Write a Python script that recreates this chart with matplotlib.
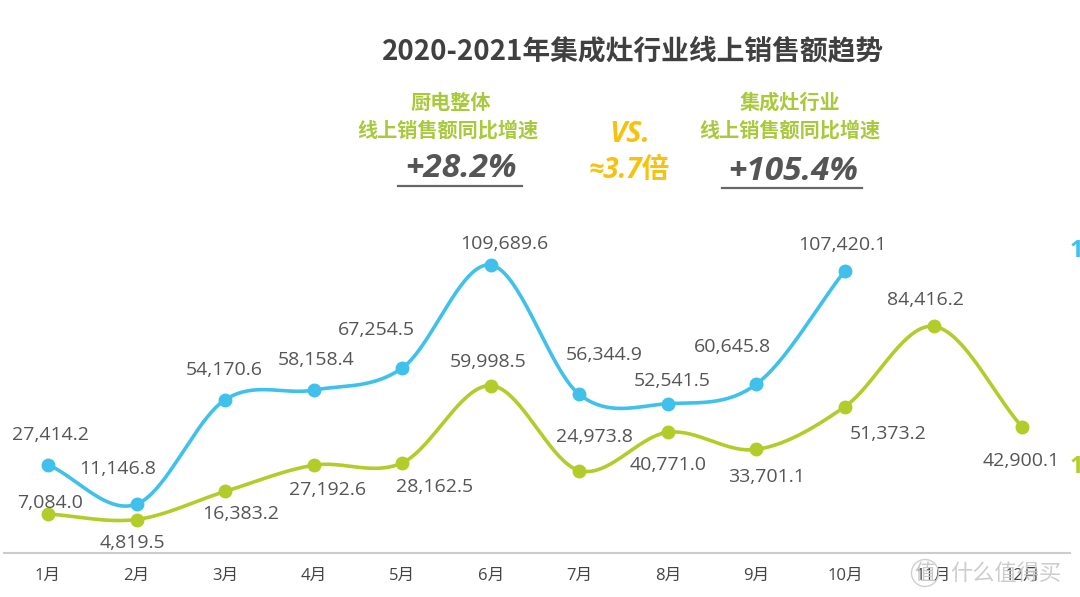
import numpy as np
import matplotlib
matplotlib.use('Agg')
import matplotlib.pyplot as plt
from matplotlib.lines import Line2D

# ---------------- data ----------------
months = ['1月', '2月', '3月', '4月', '5月', '6月', '7月', '8月', '9月', '10月', '11月', '12月']
sales_2021 = [27414.2, 11146.8, 54170.6, 58158.4, 67254.5, 109689.6, 56344.9, 52541.5, 60645.8, 107420.1]
sales_2020 = [7084.0, 4819.5, 16383.2, 27192.6, 28162.5, 59998.5, 24973.8, 40771.0, 33701.1, 51373.2, 84416.2, 42900.1]
title = '2020-2021年集成灶行业线上销售额趋势'
left_head = ['厨电整体', '线上销售额同比增速']
right_head = ['集成灶行业', '线上销售额同比增速']
kitchen_growth = '+28.2%'
stove_growth = '+105.4%'
vs_text = 'VS.'
ratio_text = '≈3.7倍'

# label offsets in pixels (dx, dy downwards) - layout only
off_2021 = [(2, -30), (-19, -35), (-1, -30), (2, -30), (-26, -38), (13, -21), (25, -39), (4, -23), (-24, -37), (-3, -26)]
off_2020 = [(2, -11), (-4, 23), (16, 23), (14, 25), (32, 24), (-3, -24), (15, -34), (0, 33), (10, 28), (43, 27), (-8, -26), (-1, 34)]

BLUE = '#3fc1eb'
GREEN = '#b2cc2a'
HEAD_GREEN = '#a9c93c'
YELLOW = '#f5c30f'
DARK = '#404040'
LABEL = '#555555'
NUMFONT = ['Open Sans', 'Noto Sans CJK SC', 'DejaVu Sans']
CJK = ['Noto Sans CJK SC', 'DejaVu Sans']

W, H = 1080, 597
fig = plt.figure(figsize=(W / 100, H / 100), dpi=100)
fig.patch.set_facecolor('white')

def fx(x):
    return x / W

def fy(y):
    return 1 - y / H

ax = fig.add_axes([fx(4), fy(553), 1066 / W, 353 / H])
ax.set_xlim(-0.497, 11.54)
ax.set_ylim(-8983, 136476)
for s in ['left', 'right', 'top']:
    ax.spines[s].set_visible(False)
ax.spines['bottom'].set_color('#cccccc')
ax.spines['bottom'].set_linewidth(1.5)
ax.set_yticks([])
ax.set_xticks(range(len(months)))
ax.set_xticklabels(months, fontfamily=NUMFONT, fontsize=12, color='#444444')
ax.tick_params(axis='x', length=0, pad=11)


def smooth(y, n=40):
    y = np.asarray(y, float)
    m = len(y)
    t = np.empty(m)
    t[1:-1] = (y[2:] - y[:-2]) / 2
    t[0] = y[1] - y[0]
    t[-1] = y[-1] - y[-2]
    xs, ys = [], []
    for i in range(m - 1):
        s = np.linspace(0, 1, n, endpoint=(i == m - 2))
        h00 = 2 * s**3 - 3 * s**2 + 1
        h10 = s**3 - 2 * s**2 + s
        h01 = -2 * s**3 + 3 * s**2
        h11 = s**3 - s**2
        xs.append(i + s)
        ys.append(h00 * y[i] + h10 * t[i] + h01 * y[i + 1] + h11 * t[i + 1])
    return np.concatenate(xs), np.concatenate(ys)


for vals, col, offs in [(sales_2020, GREEN, off_2020), (sales_2021, BLUE, off_2021)]:
    x = np.arange(len(vals))
    sx, sy = smooth(vals)
    ax.plot(sx, sy, color=col, lw=2.6, solid_capstyle='round', zorder=3)
    ax.plot(x, vals, 'o', color=col, ms=9, zorder=4)
    for xi, v, (dx, dy) in zip(x, vals, offs):
        ax.annotate(f'{v:,.1f}', (xi, v), xytext=(dx * 0.72, -dy * 0.72),
                    textcoords='offset points', ha='center', va='center',
                    fontsize=14, color=LABEL, fontfamily=NUMFONT, zorder=5)

# ---------------- headers ----------------
fig.text(fx(633), fy(52), title, ha='center', va='center', fontsize=20,
         fontweight='bold', color=DARK, fontfamily=CJK)

fig.text(fx(451), fy(102), left_head[0], ha='center', va='center', fontsize=14.5,
         fontweight='bold', color=HEAD_GREEN, fontfamily=CJK)
fig.text(fx(448), fy(130), left_head[1], ha='center', va='center', fontsize=14.5,
         fontweight='bold', color=HEAD_GREEN, fontfamily=CJK)
fig.text(fx(790), fy(102), right_head[0], ha='center', va='center', fontsize=14.5,
         fontweight='bold', color=HEAD_GREEN, fontfamily=CJK)
fig.text(fx(790), fy(130), right_head[1], ha='center', va='center', fontsize=14.5,
         fontweight='bold', color=HEAD_GREEN, fontfamily=CJK)

fig.text(fx(461), fy(169), kitchen_growth, ha='center', va='center', fontsize=24,
         fontweight='bold', style='italic', color='#555555', fontfamily=NUMFONT)
fig.text(fx(793), fy(171), stove_growth, ha='center', va='center', fontsize=24,
         fontweight='bold', style='italic', color='#555555', fontfamily=NUMFONT)
fig.add_artist(Line2D([fx(398), fx(522)], [fy(186), fy(186)], color='#666666', lw=1.6))
fig.add_artist(Line2D([fx(722), fx(862)], [fy(188), fy(188)], color='#666666', lw=1.6))

fig.text(fx(630), fy(135), vs_text, ha='center', va='center', fontsize=21,
         fontweight='bold', style='italic', color=YELLOW, fontfamily=NUMFONT)
fig.text(fx(629), fy(170), ratio_text, ha='center', va='center', fontsize=20,
         fontweight='bold', style='italic', color=YELLOW, fontfamily=NUMFONT)

# cut-off legend hints at the right edge
fig.text(fx(1070), fy(251), '1', ha='left', va='center', fontsize=17,
         fontweight='bold', color=BLUE, fontfamily=NUMFONT)
fig.text(fx(1070), fy(467), '1', ha='left', va='center', fontsize=17,
         fontweight='bold', color=GREEN, fontfamily=NUMFONT)

# watermark
fig.text(fx(925), fy(573), '值', ha='center', va='center', fontsize=15,
         color='#c8c8c8', fontfamily=CJK, zorder=10,
         bbox=dict(boxstyle='circle,pad=0.12', fc='none', ec='#cfcfcf', lw=1))
fig.text(fx(950), fy(573), '什么值得买', ha='left', va='center', fontsize=16,
         color='#c8c8c8', alpha=0.9, fontfamily=CJK, zorder=10)

fig.savefig('out.png', dpi=100, facecolor='white')
